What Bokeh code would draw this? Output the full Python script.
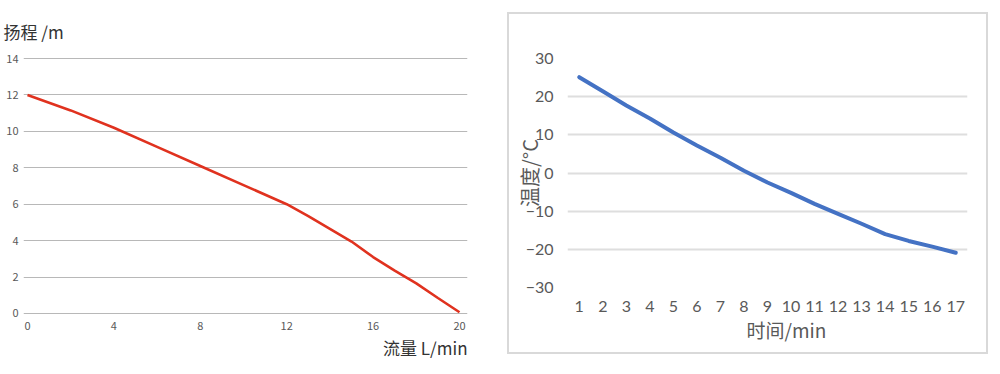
from bokeh.plotting import figure
from bokeh.layouts import row, column, Spacer
from bokeh.models import Range1d, FixedTicker, Title
from bokeh.embed import file_html
from bokeh.resources import INLINE

# ---- Left chart data (pump curve) ----
flow = [0, 2, 4, 6, 8, 10, 12, 13, 14, 15, 16, 17, 18, 19, 20]
head = [12.0, 11.15, 10.2, 9.15, 8.1, 7.05, 6.0, 5.35, 4.65, 3.95, 3.1, 2.35, 1.65, 0.85, 0.07]
flow_ticks = [0, 4, 8, 12, 16, 20]
head_ticks = [0, 2, 4, 6, 8, 10, 12, 14]

# ---- Right chart data (temperature vs time) ----
minutes = list(range(1, 18))
temp = [25.1, 21.4, 17.7, 14.3, 10.6, 7.2, 4.0, 0.6, -2.5, -5.2, -8.1, -10.7, -13.3, -16.0, -17.8, -19.3, -20.9]
temp_ticks = [-30, -20, -10, 0, 10, 20, 30]

CJK = "Noto Sans CJK SC"


def plain_axis(ax, font, size):
    ax.axis_line_color = None
    ax.major_tick_line_color = None
    ax.minor_tick_line_color = None
    ax.major_tick_out = 0
    ax.major_tick_in = 0
    ax.minor_tick_out = 0
    ax.minor_tick_in = 0
    ax.major_label_text_font = font
    ax.major_label_text_font_size = size
    ax.major_label_text_color = "#595959"


# ================= Left =================
p1 = figure(frame_width=444, frame_height=257, output_backend="svg", toolbar_location=None,
            x_range=Range1d(-0.185, 20.37), y_range=Range1d(-0.055, 14.055),
            min_border_left=23, min_border_right=40, min_border_top=57, min_border_bottom=40)
p1.outline_line_color = None
p1.line(flow, head, line_color="#E0321F", line_width=2.6)

plain_axis(p1.xaxis[0], CJK, "11px")
plain_axis(p1.yaxis[0], CJK, "11px")
p1.xaxis[0].ticker = FixedTicker(ticks=flow_ticks)
p1.yaxis[0].ticker = FixedTicker(ticks=head_ticks)
p1.xaxis[0].major_label_standoff = 7
p1.yaxis[0].major_label_standoff = 5
p1.xgrid.grid_line_color = None
p1.ygrid.ticker = FixedTicker(ticks=head_ticks)
p1.ygrid.grid_line_color = "#b8b8b8"
p1.ygrid.grid_line_width = 1

p1.add_layout(Title(text="扬程 /m", align="left", offset=-20, text_font=CJK, text_font_size="17px",
                    text_color="#333333", text_font_style="normal", standoff=28), "above")
p1.add_layout(Title(text="流量 L/min", align="right", text_font=CJK, text_font_size="17px",
                    text_color="#333333", text_font_style="normal", standoff=0), "below")

# ================= Right =================
p2 = figure(frame_width=396, frame_height=225, output_backend="svg", toolbar_location=None,
            x_range=Range1d(0.5, 17.5), y_range=Range1d(-30, 30),
            min_border_left=58, min_border_right=23, min_border_top=44, min_border_bottom=69,
            styles={"border": "2px solid #d9d9d9"})
p2.outline_line_color = None
p2.line(minutes, temp, line_color="#4472C4", line_width=4, line_cap="round", line_join="round")

plain_axis(p2.xaxis[0], "Lato", "16px")
plain_axis(p2.yaxis[0], "Lato", "16px")
p2.xaxis[0].ticker = FixedTicker(ticks=minutes)
p2.yaxis[0].ticker = FixedTicker(ticks=temp_ticks)
p2.xaxis[0].major_label_standoff = 13
p2.yaxis[0].major_label_standoff = 14
p2.yaxis[0].axis_label = "温度/°C"
p2.yaxis[0].axis_label_text_font = CJK
p2.yaxis[0].axis_label_text_font_size = "20px"
p2.yaxis[0].axis_label_text_font_style = "normal"
p2.yaxis[0].axis_label_text_color = "#595959"
p2.yaxis[0].axis_label_standoff = -21
p2.xgrid.grid_line_color = None
p2.ygrid.ticker = FixedTicker(ticks=temp_ticks)
p2.ygrid.grid_line_color = "#dedede"
p2.ygrid.grid_line_width = 2

p2.add_layout(Title(text="时间/min", align="left", offset=179, text_font=CJK, text_font_size="19px",
                    text_color="#595959", text_font_style="normal", standoff=-1), "below")

layout = row(p1, column(Spacer(height=12), p2))
open("out.html", "w").write(file_html(layout, INLINE))
